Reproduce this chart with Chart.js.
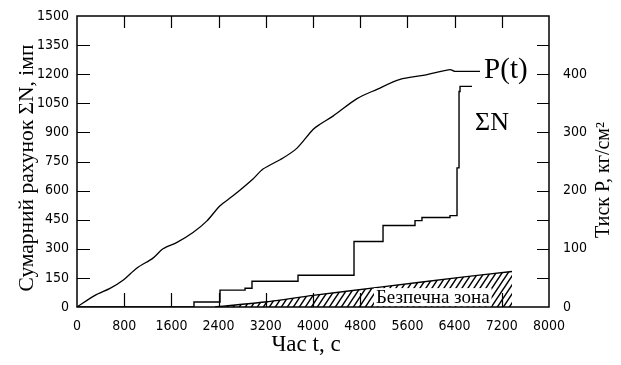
<!DOCTYPE html>
<html>
<head>
<meta charset="utf-8">
<script src="https://cdn.jsdelivr.net/npm/chart.js@4.4.1/dist/chart.umd.min.js"></script>
<style>
  body { margin: 0; background: #fff; }
  canvas { display: block; }
</style>
</head>
<body>
<canvas id="chart" width="621" height="365"></canvas>
<script>
// tick labels
const timeTicks = [0, 800, 1600, 2400, 3200, 4000, 4800, 5600, 6400, 7200, 8000];
const countTicks = [0, 150, 300, 450, 600, 750, 900, 1050, 1200, 1350, 1500];
const pressureTicks = [0, 100, 200, 300, 400];

// P(t), тиск (права вісь)
const pressureTime = [0, 305, 559, 780, 1017, 1288, 1458, 1695, 1966, 2203, 2424, 2644, 2983, 3153, 3492, 3729, 4000, 4119, 4339, 4746, 5085, 5475, 5864, 6322, 6400, 6830];
const pressureValues = [0, 20, 32, 46, 67, 84, 100, 111, 128, 148, 174, 191, 220, 237, 256, 273, 305, 314, 328, 358, 374, 391, 398, 408, 405, 405];

// сумарний рахунок ΣN (ліва вісь), сходинки
const countTime = [0, 1983, 2424, 2848, 2966, 3746, 4695, 5187, 5729, 5847, 6322, 6441, 6475, 6492, 6695];
const countValues = [0, 26, 87, 97, 133, 164, 338, 420, 445, 461, 471, 717, 1111, 1137, 1137];

// безпечна зона, верхня межа (одиниці тиску)
const safeTime = [2340, 3220, 4000, 5136, 6492, 7373];
const safeValues = [0, 9, 20, 34, 51, 61];

const tickFont = { family: "'DejaVu Sans Condensed', 'Liberation Sans Narrow', 'DejaVu Sans', sans-serif", size: 14 };
const serif = "'Liberation Serif', 'DejaVu Serif', serif";

const pts = (xs, ys) => xs.map((x, i) => ({ x: x, y: ys[i] }));

function hatch() {
  const c = document.createElement('canvas');
  c.width = 6; c.height = 9;
  const g = c.getContext('2d');
  g.strokeStyle = '#000';
  g.lineWidth = 1.5;
  g.beginPath();
  g.moveTo(0, 9); g.lineTo(6, 0);
  g.moveTo(-2, 3); g.lineTo(2, -3);
  g.moveTo(4, 12); g.lineTo(8, 6);
  g.stroke();
  return g.createPattern(c, 'repeat');
}

// прибрати зайві відступи від підписів, щоб поле графіка стояло де треба
const noPad = s => { s.paddingTop = 0; s.paddingBottom = 0; s.paddingLeft = 0; s.paddingRight = 0; };

const decor = {
  id: 'decor',
  beforeDraw(chart) {
    const ctx = chart.ctx;
    ctx.save();
    ctx.fillStyle = '#fff';
    ctx.fillRect(0, 0, chart.width, chart.height);
    ctx.restore();
  },
  afterDraw(chart) {
    const { ctx, chartArea: a, scales } = chart;
    const { x, y, y2 } = scales;
    ctx.save();
    ctx.strokeStyle = '#000';
    ctx.lineWidth = 1.5;
    ctx.strokeRect(a.left, a.top, a.right - a.left, a.bottom - a.top);

    // inner ticks
    ctx.lineWidth = 1.2;
    ctx.beginPath();
    x.ticks.forEach(t => {
      const px = Math.round(x.getPixelForValue(t.value)) + 0.5;
      if (px <= a.left + 2 || px >= a.right - 2) return;
      ctx.moveTo(px, a.top); ctx.lineTo(px, a.top + 12);
      ctx.moveTo(px, a.bottom); ctx.lineTo(px, a.bottom - 14);
    });
    y.ticks.forEach(t => {
      const py = Math.round(y.getPixelForValue(t.value)) + 0.5;
      if (py <= a.top + 2 || py >= a.bottom - 2) return;
      ctx.moveTo(a.left, py); ctx.lineTo(a.left + 13, py);
    });
    y2.ticks.forEach(t => {
      const py = Math.round(y2.getPixelForValue(t.value)) + 0.5;
      if (py <= a.top + 2 || py >= a.bottom - 2) return;
      ctx.moveTo(a.right, py); ctx.lineTo(a.right - 12, py);
    });
    ctx.stroke();

    ctx.fillStyle = '#000';
    ctx.textBaseline = 'middle';

    // напис безпечної зони на білому тлі
    ctx.font = '19px ' + serif;
    const zx = x.getPixelForValue(6030), zy = y2.getPixelForValue(17);
    const zw = ctx.measureText('Безпечна зона').width;
    ctx.fillStyle = '#fff';
    ctx.fillRect(zx - zw / 2 - 2, zy - 9, zw + 4, 18);
    ctx.fillStyle = '#000';
    ctx.textAlign = 'center';
    ctx.fillText('Безпечна зона', zx, zy + 1);

    // підписи кривих
    ctx.font = '29px ' + serif;
    ctx.textAlign = 'left';
    ctx.fillText('P(t)', x.getPixelForValue(6900), y2.getPixelForValue(406));
    ctx.font = '26px ' + serif;
    ctx.textAlign = 'center';
    ctx.fillText('ΣN', x.getPixelForValue(7034), y.getPixelForValue(947));

    // назви осей
    ctx.font = '23px ' + serif;
    ctx.fillText('Час t, с', 306, 345);

    ctx.save();
    ctx.translate(27, 168);
    ctx.rotate(-Math.PI / 2);
    ctx.font = '21.5px ' + serif;
    ctx.fillText('Сумарний рахунок ΣN, імп', 0, 0);
    ctx.restore();

    ctx.save();
    ctx.translate(604, 180);
    ctx.rotate(-Math.PI / 2);
    ctx.font = '20px ' + serif;
    ctx.fillText('Тиск P, кг/см²', 0, 0);
    ctx.restore();

    ctx.restore();
  }
};

new Chart(document.getElementById('chart'), {
  type: 'line',
  data: {
    datasets: [
      {
        label: 'Безпечна зона',
        data: pts(safeTime, safeValues),
        yAxisID: 'y2',
        borderColor: '#000',
        borderWidth: 1.3,
        backgroundColor: hatch(),
        fill: 'origin',
        pointRadius: 0,
        tension: 0.2
      },
      {
        label: 'ΣN',
        data: pts(countTime, countValues),
        yAxisID: 'y',
        borderColor: '#000',
        borderWidth: 1.4,
        stepped: 'before',
        fill: false,
        pointRadius: 0
      },
      {
        label: 'P(t)',
        data: pts(pressureTime, pressureValues),
        yAxisID: 'y2',
        borderColor: '#000',
        borderWidth: 1.3,
        fill: false,
        pointRadius: 0,
        tension: 0.3
      }
    ]
  },
  options: {
    responsive: false,
    devicePixelRatio: 1,
    animation: false,
    layout: { padding: { top: 16, left: 0, right: 0, bottom: 0 } },
    plugins: { legend: { display: false }, tooltip: { enabled: false } },
    scales: {
      x: {
        type: 'linear',
        min: 0, max: 8000,
        grid: { display: false, drawTicks: false },
        border: { display: false },
        afterBuildTicks: s => { s.ticks = timeTicks.map(v => ({ value: v })); },
        afterFit: s => { s.height = 58; noPad(s); },
        ticks: { color: '#000', font: tickFont, padding: 11, maxRotation: 0, autoSkip: false, callback: v => v }
      },
      y: {
        position: 'left',
        min: 0, max: 1500,
        grid: { display: false, drawTicks: false },
        border: { display: false },
        afterBuildTicks: s => { s.ticks = countTicks.map(v => ({ value: v })); },
        afterFit: s => { s.width = 77; noPad(s); },
        ticks: { color: '#000', font: tickFont, padding: 8, autoSkip: false, callback: v => v }
      },
      y2: {
        position: 'right',
        min: 0, max: 500,
        grid: { display: false, drawTicks: false },
        border: { display: false },
        afterBuildTicks: s => {
          const list = [];
          for (let v = 0; v <= 450; v += 50) list.push({ value: v });
          s.ticks = list;
        },
        afterFit: s => { s.width = 72; noPad(s); },
        ticks: {
          color: '#000', font: tickFont, padding: 14, autoSkip: false,
          callback: v => pressureTicks.includes(v) ? v : ''
        }
      }
    }
  },
  plugins: [decor]
});
</script>
</body>
</html>
